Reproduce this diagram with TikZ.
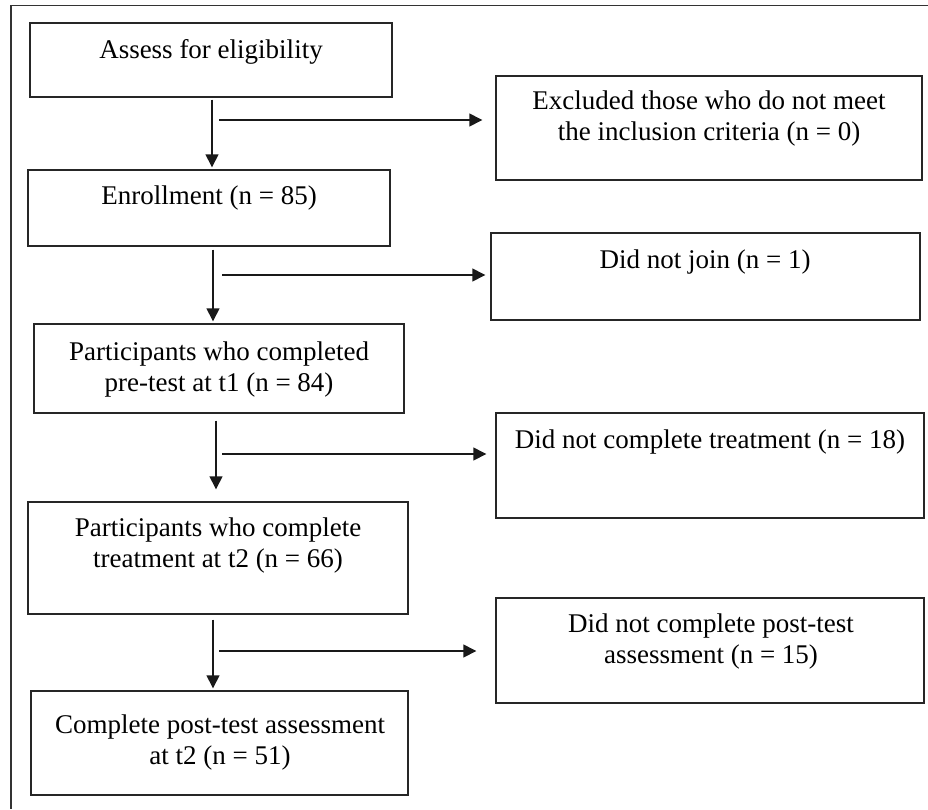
\documentclass[tikz,border=0pt]{standalone}
\usepackage{fontspec}
\setmainfont{Liberation Serif}
\usetikzlibrary{arrows.meta}
\begin{document}
\begin{tikzpicture}[x=1pt,y=-1pt,
  box/.style={draw=black!85, line width=1.4pt, inner sep=0pt},
  txt/.style={anchor=base, align=center, inner sep=0pt, font=\fontsize{27}{31}\selectfont},
  arr/.style={draw=black!90, line width=1.4pt, -{Triangle[length=13pt,width=13pt]}}]
\useasboundingbox (0,0) rectangle (928,809);
% outer frame (cropped)
\draw[line width=1.3pt, black!80] (928,5.5) -- (11,5.5) -- (11,809);
% main column boxes
\node[box, minimum width=362pt, minimum height=74pt] (b1) at (211,60) {};
\node[box, minimum width=362pt, minimum height=76pt] (b2) at (209,208) {};
\node[box, minimum width=370pt, minimum height=89pt] (b3) at (219,368.5) {};
\node[box, minimum width=380pt, minimum height=112pt] (b4) at (218,558) {};
\node[box, minimum width=377pt, minimum height=104pt] (b5) at (219.5,743) {};
% side boxes
\node[box, minimum width=426pt, minimum height=104pt] (e1) at (709,128) {};
\node[box, minimum width=429pt, minimum height=87pt] (e2) at (705.5,276.5) {};
\node[box, minimum width=428pt, minimum height=105pt] (e3) at (710,465.5) {};
\node[box, minimum width=428pt, minimum height=105pt] (e4) at (710,650.5) {};
% texts (multi-line nodes: base anchor = last line's baseline)
\node[txt] (t1) at (211,58) {Assess for eligibility};
\node[txt] (t2) at (209,204) {Enrollment (n = 85)};
\node[txt] (t3) at (219,391) {Participants who completed\\pre-test at t1 (n = 84)};
\node[txt] (t4) at (218,567) {Participants who complete\\treatment at t2 (n = 66)};
\node[txt] (t5) at (220,764) {Complete post-test assessment\\at t2 (n = 51)};
\node[txt] (s1) at (709,140) {Excluded those who do not meet\\the inclusion criteria (n = 0)};
\node[txt] (s2) at (705,268) {Did not join (n = 1)};
\node[txt] (s3) at (710,448) {Did not complete treatment (n = 18)};
\node[txt] (s4) at (711,663) {Did not complete post-test\\assessment (n = 15)};
% vertical arrows
\draw[arr] ([xshift=1pt,yshift=-2pt]b1.south) -- ([xshift=1pt,yshift=2pt]b1.south |- b2.north);
\draw[arr] ([xshift=4pt,yshift=-3pt]b2.south) -- ([xshift=4pt,yshift=2pt]b2.south |- b3.north);
\draw[arr] ([xshift=-3pt,yshift=-7pt]b3.south) -- ([xshift=-3pt,yshift=12pt]b3.south |- b4.north);
\draw[arr] ([xshift=-5pt,yshift=-5pt]b4.south) -- ([xshift=-5pt,yshift=2pt]b4.south |- b5.north);
% horizontal arrows
\coordinate (h1) at (219,120);
\coordinate (h2) at (222,275);
\coordinate (h3) at (222,454);
\coordinate (h4) at (219,651);
\draw[arr, shorten >=13pt] (h1) -- (h1 -| e1.west);
\draw[arr, shorten >=5pt] (h2) -- (h2 -| e2.west);
\draw[arr, shorten >=9pt] (h3) -- (h3 -| e3.west);
\draw[arr, shorten >=19pt] (h4) -- (h4 -| e4.west);
\end{tikzpicture}
\end{document}
